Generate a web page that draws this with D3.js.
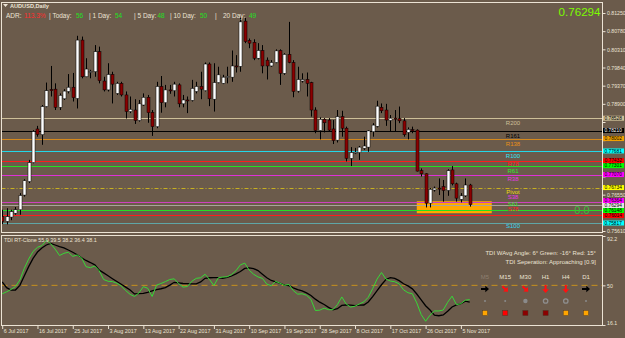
<!DOCTYPE html>
<html>
<head>
<meta charset="utf-8">
<script src="https://cdn.jsdelivr.net/npm/d3@7"></script>
<style>
  body { margin: 0; background: #6b5b4b; }
  svg { display: block; font-family: "Liberation Sans", Arial, sans-serif; }
</style>
</head>
<body>
<svg width="625" height="338"></svg>
<script>
// ---- data ----
const symbol = 'AUDUSD,Daily';
const bid = 0.76294;
const firstDay = '2017-07-06';

const dateTicks = ['6 Jul 2017', '16 Jul 2017', '25 Jul 2017', '3 Aug 2017', '13 Aug 2017', '22 Aug 2017',
  '31 Aug 2017', '10 Sep 2017', '19 Sep 2017', '28 Sep 2017', '8 Oct 2017', '17 Oct 2017', '26 Oct 2017', '5 Nov 2017'];
const priceTicks = [0.8125, 0.8078, 0.8031, 0.7984, 0.7937, 0.7890, 0.7843, 0.7796, 0.7749, 0.7702, 0.7655, 0.7608, 0.7561];
const tdiTicks = [92.2, 50, 16.1];

const opens = [.7598, .7586, .7597, .7607, .7616, .7654, .7689, .7738, .7825, .7810,
  .7883, .7927, .7928, .7881, .7903, .7922, .7933, .7904, .8055, .7960,
  .7972, .7973, .8025, .7949, .7926, .7966, .7917, .7943, .7913, .7870,
  .7874, .7847, .7887, .7907, .7868, .7831, .7935, .7893, .7926, .7924,
  .7939, .7890, .7900, .7899, .7922, .7935, .7924, .7993, .7902, .7945,
  .7943, .7960, .7959, .7988, .7987, .8104, .8054, .8049, .8008, .8028,
  .8003, .7988, .7997, .8028, .7969, .8018, .7997, .7923, .7949, .7953,
  .7945, .7874, .7821, .7850, .7848, .7825, .7796, .7857, .7827, .7749,
  .7763, .7764, .7775, .7778, .7818, .7832, .7881, .7874, .7847, .7853,
  .7852, .7846, .7816, .7823, .7822, .7717, .7709, .7633, .7667, .7672,
  .7676, .7666, .7719, .7683, .7643, .7652, .7680];
const highs = [.7616, .7620, .7616, .7623, .7659, .7695, .7745, .7822, .7833, .7887,
  .7945, .7988, .7943, .7917, .7928, .7967, .7970, .8066, .8064, .8008,
  .7978, .8042, .8038, .7960, .7995, .7973, .7947, .7947, .7922, .7909,
  .7902, .7900, .7917, .7913, .7874, .7947, .7962, .7939, .7939, .7947,
  .7943, .7913, .7909, .7952, .7947, .7973, .7997, .7997, .7995, .7986,
  .7965, .7986, .8028, .8016, .8115, .8112, .8059, .8057, .8047, .8042,
  .8010, .8003, .8031, .8031, .8021, .8102, .8003, .7986, .7969, .7971,
  .7947, .7881, .7855, .7853, .7853, .7848, .7874, .7872, .7831, .7778,
  .7776, .7781, .7805, .7822, .7840, .7898, .7891, .7890, .7861, .7874,
  .7883, .7853, .7829, .7831, .7824, .7723, .7710, .7672, .7676, .7697,
  .7693, .7721, .7729, .7686, .7659, .7697, .7683];
const lows = [.7579, .7578, .7589, .7603, .7603, .7650, .7685, .7736, .7805, .7784,
  .7881, .7909, .7874, .7874, .7900, .7917, .7896, .7878, .7956, .7959,
  .7956, .7960, .7943, .7922, .7922, .7891, .7913, .7909, .7852, .7866,
  .7838, .7844, .7885, .7841, .7807, .7827, .7867, .7881, .7916, .7909,
  .7881, .7881, .7866, .7896, .7917, .7902, .7922, .7884, .7870, .7943,
  .7941, .7943, .7947, .7971, .7973, .8047, .8034, .8003, .8005, .7969,
  .7953, .7986, .7995, .7939, .7965, .7995, .7907, .7919, .7945, .7909,
  .7857, .7814, .7798, .7816, .7818, .7786, .7790, .7805, .7741, .7729,
  .7760, .7745, .7771, .7766, .7805, .7829, .7866, .7833, .7818, .7818,
  .7840, .7805, .7798, .7814, .7715, .7702, .7622, .7622, .7663, .7654,
  .7637, .7652, .7679, .7637, .7635, .7649, .7624];
const closes = [.7586, .7598, .7611, .7616, .7653, .7691, .7738, .7818, .7811, .7883,
  .7924, .7924, .7881, .7912, .7923, .7933, .7906, .8055, .7960, .7980,
  .7974, .8025, .7950, .7926, .7966, .7941, .7943, .7913, .7870, .7876,
  .7847, .7890, .7907, .7867, .7831, .7935, .7893, .7926, .7925, .7941,
  .7890, .7900, .7899, .7930, .7935, .7928, .7993, .7903, .7945, .7965,
  .7959, .7961, .7988, .7987, .8102, .8051, .8047, .8008, .8028, .7988,
  .7988, .7997, .8027, .7969, .8018, .7997, .7922, .7953, .7953, .7943,
  .7874, .7821, .7850, .7841, .7822, .7795, .7857, .7827, .7749, .7764,
  .7765, .7778, .7781, .7820, .7835, .7884, .7872, .7848, .7853, .7852,
  .7846, .7810, .7824, .7822, .7716, .7709, .7633, .7669, .7672, .7671,
  .7666, .7717, .7683, .7646, .7652, .7680, .76294];

// TDI: green = RSI price line, black = trade signal line
const tdiGreen = [42.8, 44.5, 46.5, 49, 54.5, 64.5, 72.5, 79, 82.5, 84,
  88.5, 85.5, 81, 75.5, 77.4, 78.3, 74.8, 76, 73.5, 66,
  65.1, 66.5, 62.5, 55, 53.5, 53.2, 51.8, 49.5, 45.5, 42.3,
  40.5, 43.5, 48.9, 47.5, 40.5, 50.2, 51.6, 53.2, 55, 55.6,
  51.5, 48.5, 49, 53.5, 56, 56.5, 59.5, 55, 49.8, 56.5,
  57.1, 57.3, 59.2, 62.5, 67.5, 69, 63, 59.5, 57.2, 56,
  51, 49.7, 53.4, 51.8, 50, 50.8, 45.5, 42.5, 42.8, 41.5,
  38, 28.5, 28.8, 30.5, 29.2, 29.2, 33.5, 40.1, 34, 31.4,
  32.2, 34.1, 35.9, 39.8, 47.2, 55.4, 61, 55.4, 53.7, 53.1,
  51.3, 46.2, 43.7, 42.8, 35, 25, 19.3, 24.5, 28.1, 28.1,
  28.9, 35.5, 40.8, 33.5, 34.4, 37.3, 37.8];
const tdiSignal = [53, 48, 46, 46, 50, 58, 66, 73, 78.5, 82,
  84.5, 85.8, 84.5, 83.2, 82, 80.2, 78.3, 76.2, 73.6, 71.3,
  69.5, 67.5, 63, 60.7, 58.2, 55.7, 53.3, 51, 48.5, 46,
  42.7, 43, 43.2, 44, 45.3, 46.3, 47.1, 48.1, 50.2, 52.6,
  52.2, 51.6, 51.5, 51.3, 51.2, 52.9, 56, 56.5, 56.6, 56.6,
  56.1, 56.8, 58, 59.8, 61.8, 64.5, 65, 64.3, 62.6, 59.5,
  56.5, 54.2, 53, 51.8, 50.2, 49.8, 47.9, 46.4, 45.3, 43.6,
  41.3, 38.2, 35.6, 33.6, 31.2, 29, 30, 32.8, 33.2, 33.1,
  32.6, 33.1, 33.2, 35.8, 40.3, 45.5, 50.5, 55, 56.6, 56,
  54, 51.4, 49.5, 47, 42.6, 37.6, 32.6, 28.9, 24.5, 24,
  24.7, 27.8, 31.5, 33.3, 34.3, 36.5, 35.7];

// pivot levels
const levelNames = ['R200', 'R161', 'R138', 'R100', 'R78', 'R61', 'R38', 'Pivot', 'S38', 'S61', 'S78', 'S100'];
const levelValues = [0.78528, 0.78210, 0.78002, 0.77681, 0.77432, 0.77301, 0.77070, 0.76734, 0.76364, 0.76148, 0.76014, 0.75817];

// supply/demand zone (bar index range, price range)
const zoneBars = [94, 111];
const zonePrices = [0.7638, 0.7607];

// header stats
const adrParts = ['ADR:', '113.3%', '| Today:', '56', '| 1 Day:', '54', '| 5 Day:', '48', '| 10 Day:', '50', '|', '20 Day:', '49'];
const tdiLegend = 'TDI RT-Clone 55.9 39.5 38.2 36.4 38.1';
const tdiAngleText = 'TDI WAvg Angle: 6°  Green: -16°  Red: 15°';
const tdiSepText = 'TDI Seperation: Approaching [0.9]';
const tfNames = ['M5', 'M15', 'M30', 'H1', 'H4', 'D1'];
const tfArrowAngle = [0, 45, 45, 90, 90, 0];
const tfStrength = ['tiny', 'tiny', 'dot', 'ring', 'ring', 'tiny'];
const tfSignal = ['orange', 'red', 'darkred', 'darkred', 'orange', 'orange'];
const zeroText = '0.0';

// ---- styles ----
const BG = '#6b5b4b';
const FG = '#ece3d4';
const levelLine = ['#cdbf98', '#000000', '#d4881c', '#22d8e8', '#ff1c1c', '#22e022', '#e030d8', '#c8b020',
  '#d040c0', '#22e022', '#ff1c1c', '#5fa6a6'];
const levelText = ['#cdbf98', '#000000', '#e89018', '#34e4f4', '#ff2020', '#30e830', '#e838e8', '#f0dc10',
  '#e838e8', '#30e830', '#ff2020', '#34d8f4'];
const levelBox = ['#cdbf98', '#000000', '#f0a000', '#00ffff', '#ff0000', '#00ff00', '#ff00ff', '#ffff00',
  '#ff00ff', '#00ff00', '#ff0000', '#00ffff'];
// baseline offset of each level name from its line
const levelLabelDy = { R200: 7, R161: 7, R138: 7, R100: 7, R78: 5, R61: 7, R38: 6.5, Pivot: 6,
  S38: -3, S61: -4.7, S78: -4.4, S100: 5.5 };
const signalColors = { orange: '#ffa500', red: '#ff0000', darkred: '#8b0000' };
const adrValueIdx = new Set([3, 5, 7, 9, 12]);
const adrX = [6, 24, 49, 76, 89, 115, 134, 157.5, 170, 200, 215, 223, 249];

const W = 625, H = 338;
const main = { left: 1.5, right: 602.5, top: 2.5, bottom: 232.5 };
const sub = { top: 235.5, bottom: 325.5 };

const svg = d3.select('svg');
svg.append('rect').attr('width', W).attr('height', H).attr('fill', BG);

const defs = svg.append('defs');
defs.append('clipPath').attr('id', 'clip-main').append('rect')
  .attr('x', main.left).attr('y', main.top).attr('width', main.right - main.left).attr('height', main.bottom - main.top);
defs.append('clipPath').attr('id', 'clip-sub').append('rect')
  .attr('x', main.left).attr('y', sub.top).attr('width', main.right - main.left).attr('height', sub.bottom - sub.top);

// bars: one per trading day, Sunday to Friday
const parseDay = d3.timeParse('%Y-%m-%d');
const fmtDay = d3.timeFormat('%-d %b %Y');
const barDates = [];
for (let d = parseDay(firstDay); barDates.length < closes.length; d = d3.timeDay.offset(d, 1)) {
  if (d.getDay() !== 6) barDates.push(d);
}
const bars = closes.map((c, i) => ({ i, o: opens[i], h: highs[i], l: lows[i], c }));

const x = d3.scaleLinear().domain([0, closes.length - 1]).range([2.2, 469.7]);
const y = d3.scaleLinear().domain([0.7561, 0.8125]).range([231, 13]);
const yT = d3.scaleLinear().domain([16.1, 92.2]).range([325, 236]);

// ---- main panel ----
const gMain = svg.append('g').attr('clip-path', 'url(#clip-main)');

gMain.append('rect')
  .attr('x', x(zoneBars[0])).attr('width', x(zoneBars[1]) - x(zoneBars[0]))
  .attr('y', y(zonePrices[0])).attr('height', y(zonePrices[1]) - y(zonePrices[0]))
  .attr('fill', '#ffa800');

const levels = levelNames.map((name, k) => ({ name, v: levelValues[k], k }));

gMain.selectAll('line.level').data(levels).join('line')
  .attr('class', 'level')
  .attr('x1', main.left).attr('x2', main.right)
  .attr('y1', d => Math.round(y(d.v)) + 0.5).attr('y2', d => Math.round(y(d.v)) + 0.5)
  .style('stroke', d => levelLine[d.k])
  .style('stroke-width', 1)
  .style('stroke-dasharray', d => d.name === 'Pivot' ? '4,2,1,2' : null);

// bid line
gMain.append('line')
  .attr('x1', main.left).attr('x2', main.right)
  .attr('y1', Math.round(y(bid)) + 0.5).attr('y2', Math.round(y(bid)) + 0.5)
  .style('stroke', '#a9a49c');

gMain.selectAll('line.wick').data(bars).join('line')
  .attr('class', 'wick')
  .attr('x1', d => Math.round(x(d.i)) + 0.5).attr('x2', d => Math.round(x(d.i)) + 0.5)
  .attr('y1', d => y(d.h)).attr('y2', d => y(d.l))
  .style('stroke', '#000');

gMain.selectAll('rect.body').data(bars).join('rect')
  .attr('class', 'body')
  .attr('x', d => Math.round(x(d.i)) - 1)
  .attr('width', 3)
  .attr('y', d => y(Math.max(d.o, d.c)))
  .attr('height', d => Math.max(1, Math.abs(y(d.o) - y(d.c))))
  .attr('fill', d => d.c >= d.o ? '#ffffff' : '#8b0000')
  .attr('stroke', '#000')
  .attr('stroke-width', 0.5);

svg.selectAll('text.lvl').data(levels).join('text')
  .attr('class', 'lvl')
  .attr('x', 513).attr('y', d => y(d.v) + levelLabelDy[d.name])
  .attr('text-anchor', 'middle')
  .attr('font-size', 6)
  .attr('fill', d => levelText[d.k])
  .text(d => d.name);

svg.append('text')
  .attr('x', 582).attr('y', y(0.7618) + 5.5)
  .attr('text-anchor', 'middle').attr('font-size', 11)
  .attr('fill', '#3cbc3c').text(zeroText);

// header
svg.append('path').attr('d', 'M3,4 L8,4 L5.5,7 Z').attr('fill', FG);
svg.append('text').attr('x', 10).attr('y', 8).attr('font-size', 5.6).attr('font-weight', 'bold')
  .attr('fill', FG).text(symbol);

svg.selectAll('text.adr').data(adrParts).join('text')
  .attr('class', 'adr')
  .attr('x', (d, k) => adrX[k]).attr('y', 18)
  .attr('font-size', 6.5)
  .attr('fill', (d, k) => k === 1 ? '#ff2e2e' : adrValueIdx.has(k) ? '#22e022' : FG)
  .text(d => d);

svg.append('text').attr('x', 600.5).attr('y', 16).attr('text-anchor', 'end')
  .attr('font-size', 11.6).attr('fill', '#7cfc00').text(d3.format('.5f')(bid));

// price boxes on the axis, nudged apart where they would overlap
const boxes = levels.map(d => ({ v: d.v, fill: levelBox[d.k], ink: d.name === 'R161' ? '#fff' : '#000' }));
boxes.push({ v: bid, fill: '#e6e6e6', ink: '#000' });
boxes.forEach(b => { b.y = y(b.v); });
boxes.sort((a, b) => a.y - b.y);
for (let pass = 0; pass < 4; pass++) {
  for (let k = 1; k < boxes.length; k++) {
    const gap = boxes[k].y - boxes[k - 1].y;
    if (gap < 5) {
      const push = (5 - gap) / 2;
      boxes[k - 1].y -= push;
      boxes[k].y += push;
    }
  }
}
const covered = t => boxes.some(b => Math.abs(b.y - y(t)) < 4.5);

const yAxis = svg.append('g').attr('transform', `translate(${main.right},0)`)
  .call(d3.axisRight(y).tickValues(priceTicks)
    .tickFormat(t => covered(t) ? '' : d3.format('.5f')(t)).tickSize(3).tickPadding(1.5));
yAxis.select('.domain').remove();
yAxis.selectAll('line').style('stroke', FG);
yAxis.selectAll('text').attr('font-size', 5.2).attr('fill', FG).attr('font-family', 'Liberation Sans, Arial');

const gBox = svg.append('g').selectAll('g').data(boxes).join('g')
  .attr('transform', d => `translate(603,${d.y})`);
gBox.append('rect').attr('x', 0).attr('y', -2.5).attr('width', 21).attr('height', 5).attr('fill', d => d.fill);
gBox.append('text').attr('x', 1.5).attr('y', 1.7).attr('font-size', 4.8).attr('fill', d => d.ink)
  .text(d => d3.format('.5f')(d.v));

// ---- TDI panel ----
const gSub = svg.append('g').attr('clip-path', 'url(#clip-sub)');
gSub.append('line')
  .attr('x1', main.left).attr('x2', main.right)
  .attr('y1', yT(50)).attr('y2', yT(50))
  .style('stroke', '#c8901e').style('stroke-dasharray', '6,4');

const tdiLine = d3.line().x((d, i) => x(i)).y(d => yT(d));
gSub.append('path').datum(tdiSignal).attr('d', tdiLine)
  .attr('fill', 'none').style('stroke', '#000').style('stroke-width', 1.3);
gSub.append('path').datum(tdiGreen).attr('d', tdiLine)
  .attr('fill', 'none').style('stroke', '#38d838').style('stroke-width', 1);

svg.append('text').attr('x', 4).attr('y', 242).attr('font-size', 5.4).attr('fill', FG).text(tdiLegend);

svg.append('text').attr('x', 596).attr('y', 255).attr('text-anchor', 'end')
  .attr('font-size', 6).attr('fill', FG).text(tdiAngleText);
svg.append('text').attr('x', 596).attr('y', 264).attr('text-anchor', 'end')
  .attr('font-size', 6).attr('fill', FG).text(tdiSepText);

const tx = d3.scalePoint().domain(tfNames).range([485, 586]);
const tf = tfNames.map((name, k) => ({ name, k }));

svg.selectAll('text.tf').data(tf).join('text')
  .attr('class', 'tf')
  .attr('x', d => tx(d.name)).attr('y', 278.5)
  .attr('text-anchor', 'middle').attr('font-size', 6)
  .attr('fill', d => d.k === 0 ? '#8d7f70' : FG)
  .text(d => d.name);

svg.selectAll('path.arrow').data(tf).join('path')
  .attr('class', 'arrow')
  .attr('d', 'M-4,-1 L0.3,-1 L0.3,-3.3 L4,0 L0.3,3.3 L0.3,1 L-4,1 Z')
  .attr('transform', d => `translate(${tx(d.name)},289) rotate(${tfArrowAngle[d.k]})`)
  .attr('fill', d => tfArrowAngle[d.k] === 0 ? '#000' : '#ff1010');

const gDot = svg.selectAll('g.dot').data(tf).join('g')
  .attr('class', 'dot')
  .attr('transform', d => `translate(${tx(d.name)},301)`);
gDot.append('circle')
  .attr('r', d => tfStrength[d.k] === 'tiny' ? 1 : 2.2)
  .attr('fill', d => tfStrength[d.k] === 'ring' ? 'none' : '#8a8a8a')
  .style('stroke', d => tfStrength[d.k] === 'ring' ? '#8e8e8e' : 'none')
  .style('stroke-width', 1.3);

svg.selectAll('rect.sig').data(tf).join('rect')
  .attr('class', 'sig')
  .attr('x', d => tx(d.name) - 2.6).attr('y', 310.4)
  .attr('width', 5.2).attr('height', 5.2)
  .attr('fill', d => signalColors[tfSignal[d.k]])
  .style('stroke', '#4a3a2a').style('stroke-width', 0.5);

// TDI axis
const tAxis = svg.append('g').attr('transform', `translate(${main.right},0)`)
  .call(d3.axisRight(yT).tickValues(tdiTicks).tickFormat(d => d).tickSize(3).tickPadding(1.5));
tAxis.select('.domain').remove();
tAxis.selectAll('line').style('stroke', FG);
tAxis.selectAll('text').attr('font-size', 5.2).attr('fill', FG)
  .attr('dy', d => d === 92.2 ? '0.9em' : d === 16.1 ? '-0.1em' : '0.32em');

// date axis
const tickIdx = dateTicks.map(s => barDates.findIndex(d => fmtDay(d) === s));
const xAxis = svg.append('g').attr('transform', `translate(0,${sub.bottom})`)
  .call(d3.axisBottom(x).tickValues(tickIdx).tickFormat(i => fmtDay(barDates[i])).tickSize(3.5));
xAxis.select('.domain').remove();
xAxis.selectAll('line').style('stroke', FG);
xAxis.selectAll('text').attr('font-size', 5.4).attr('fill', FG)
  .attr('text-anchor', 'start').attr('dx', 1).attr('y', 3).attr('dy', '0.75em');

// frames
[[main.top, main.bottom], [sub.top, sub.bottom]].forEach(([t, b]) => {
  svg.append('rect').attr('x', main.left).attr('y', t)
    .attr('width', main.right - main.left).attr('height', b - t)
    .attr('fill', 'none').style('stroke', FG);
});
</script>
</body>
</html>
